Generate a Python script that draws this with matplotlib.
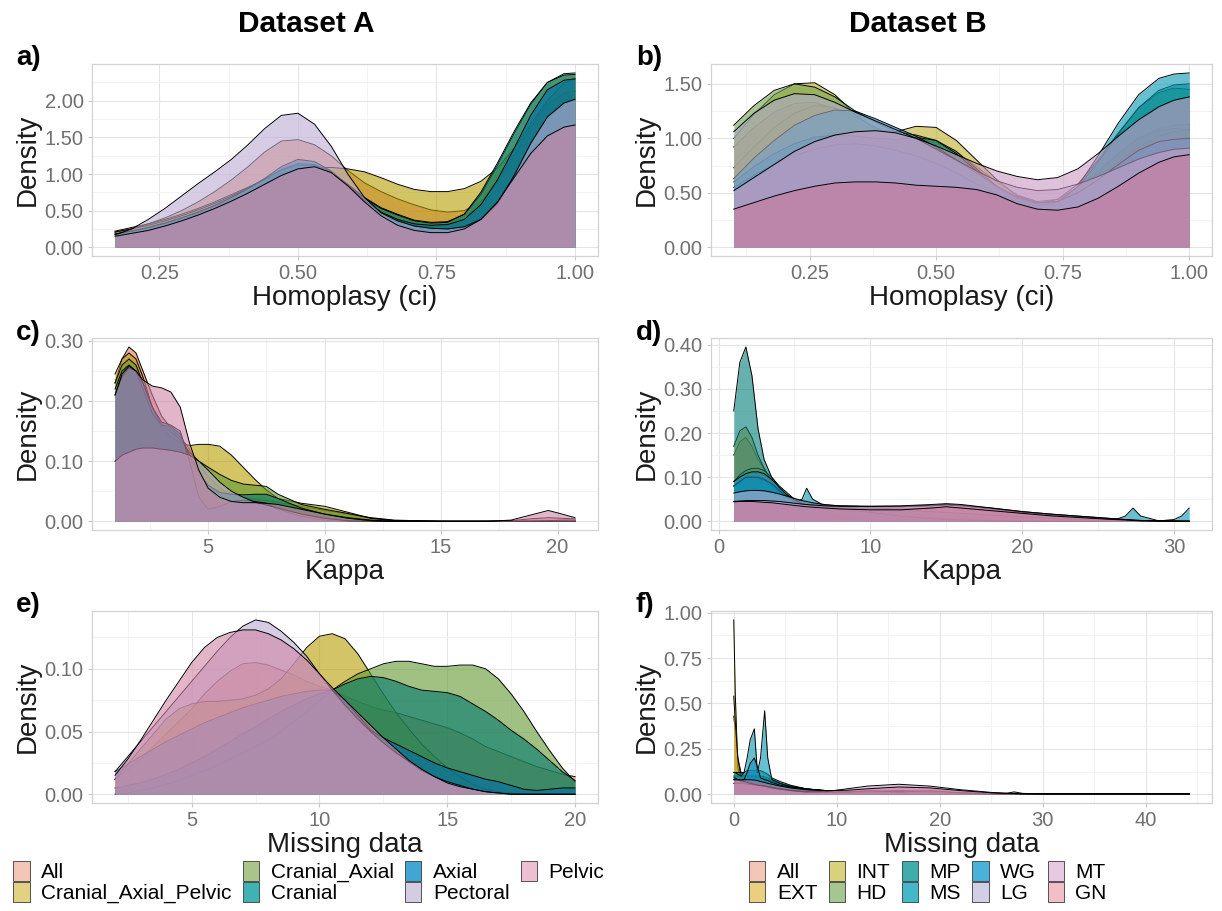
import matplotlib

matplotlib.use("Agg")
import matplotlib.pyplot as plt
from matplotlib.patches import Patch
from matplotlib.ticker import AutoMinorLocator, FormatStrFormatter

plt.rcParams["font.family"] = ["Liberation Sans", "DejaVu Sans"]

# group order (drawing order, later groups sit on top)
groups_a = ["All", "Cranial_Axial_Pelvic", "Cranial_Axial", "Cranial", "Axial", "Pectoral", "Pelvic"]
groups_b = ["All", "EXT", "INT", "HD", "MP", "MS", "WG", "LG", "MT", "GN"]

fill_a = ["#E1785A", "#B79D00", "#61992F", "#00786E", "#006EAA", "#BCACD2", "#CF84A6"]
fill_b = ["#E1785A", "#D7AA28", "#BEAF28", "#6EA04B", "#007D78", "#0096AF", "#148CC3",
          "#B3ABCF", "#CC98C2", "#C97A99"]
key_a = ["#F3C6B6", "#E2D183", "#A9C58A", "#3FB2B4", "#40A7D3", "#D4CCE3", "#EEBFD0"]
key_b = ["#F3C6B6", "#EBCF7E", "#D9D27D", "#A5C68E", "#3FAEAB", "#43B8CB", "#4AB1DA",
         "#D2CEE3", "#E9C8E1", "#F2BFC8"]

# a) homoplasy, dataset A
homo_a_x = [0.17, 0.20, 0.23, 0.26, 0.29, 0.32, 0.35, 0.38, 0.41, 0.44, 0.47, 0.50, 0.53,
            0.56, 0.59, 0.62, 0.65, 0.68, 0.71, 0.74, 0.77, 0.80, 0.83, 0.86, 0.89, 0.92,
            0.95, 0.98, 1.00]
homo_a = {
    "All": [0.20, 0.25, 0.32, 0.40, 0.50, 0.62, 0.76, 0.92, 1.10, 1.30, 1.45, 1.47, 1.40,
            1.25, 1.05, 0.88, 0.76, 0.66, 0.58, 0.51, 0.48, 0.50, 0.62, 0.88, 1.25, 1.63,
            1.95, 2.10, 2.13],
    "Cranial_Axial_Pelvic": [0.22, 0.27, 0.32, 0.38, 0.45, 0.53, 0.62, 0.72, 0.82, 0.92, 1.01,
                             1.07, 1.09, 1.09, 1.07, 1.03, 0.95, 0.86, 0.79, 0.76, 0.76, 0.80,
                             0.90, 1.08, 1.35, 1.68, 2.00, 2.24, 2.30],
    "Cranial_Axial": [0.21, 0.25, 0.30, 0.36, 0.43, 0.51, 0.60, 0.70, 0.81, 0.93, 1.05, 1.12,
                      1.12, 1.03, 0.86, 0.68, 0.54, 0.45, 0.37, 0.34, 0.35, 0.45, 0.72, 1.12,
                      1.55, 1.95, 2.25, 2.37, 2.38],
    "Cranial": [0.18, 0.22, 0.27, 0.33, 0.40, 0.48, 0.57, 0.68, 0.80, 0.93, 1.06, 1.14, 1.13,
                1.03, 0.85, 0.67, 0.53, 0.44, 0.36, 0.33, 0.34, 0.45, 0.75, 1.15, 1.58, 1.97,
                2.25, 2.35, 2.36],
    "Axial": [0.18, 0.22, 0.27, 0.33, 0.40, 0.48, 0.57, 0.68, 0.80, 0.94, 1.10, 1.20, 1.17,
              1.04, 0.84, 0.64, 0.48, 0.38, 0.32, 0.30, 0.31, 0.38, 0.58, 0.92, 1.35, 1.80,
              2.15, 2.28, 2.30],
    "Pectoral": [0.17, 0.25, 0.38, 0.53, 0.70, 0.87, 1.03, 1.20, 1.40, 1.62, 1.80, 1.83, 1.68,
                 1.38, 1.00, 0.68, 0.47, 0.36, 0.29, 0.26, 0.25, 0.28, 0.38, 0.60, 0.98, 1.42,
                 1.78, 1.97, 2.02],
    "Pelvic": [0.15, 0.19, 0.23, 0.29, 0.36, 0.44, 0.53, 0.63, 0.74, 0.86, 0.98, 1.07, 1.10,
               1.02, 0.84, 0.62, 0.43, 0.30, 0.23, 0.20, 0.20, 0.25, 0.38, 0.62, 0.95, 1.28,
               1.52, 1.64, 1.67],
}

# b) homoplasy, dataset B
homo_b_x = [0.10, 0.14, 0.18, 0.22, 0.26, 0.30, 0.34, 0.38, 0.42, 0.46, 0.50, 0.54,
            0.58, 0.62, 0.66, 0.70, 0.74, 0.78, 0.82, 0.86, 0.90, 0.94, 0.97, 1.00]
homo_b = {
    "All": [0.92, 1.10, 1.24, 1.32, 1.33, 1.27, 1.16, 1.05, 0.96, 0.89, 0.81, 0.71,
            0.60, 0.50, 0.43, 0.40, 0.42, 0.52, 0.68, 0.86, 1.00, 1.09, 1.12, 1.13],
    "EXT": [0.73, 0.92, 1.10, 1.23, 1.30, 1.28, 1.20, 1.10, 1.02, 1.00, 0.96, 0.87,
            0.74, 0.60, 0.48, 0.42, 0.44, 0.55, 0.70, 0.86, 1.00, 1.07, 1.09, 1.08],
    "INT": [1.00, 1.22, 1.40, 1.50, 1.51, 1.40, 1.22, 1.08, 1.06, 1.11, 1.10, 0.98,
            0.80, 0.62, 0.47, 0.41, 0.42, 0.50, 0.62, 0.78, 0.92, 1.02, 1.06, 1.08],
    "HD": [1.12, 1.30, 1.44, 1.50, 1.47, 1.38, 1.25, 1.15, 1.06, 1.03, 0.98, 0.88,
           0.72, 0.56, 0.44, 0.40, 0.44, 0.58, 0.80, 1.05, 1.28, 1.42, 1.46, 1.45],
    "MP": [0.60, 0.74, 0.86, 0.95, 1.01, 1.03, 1.02, 1.00, 0.99, 1.01, 0.98, 0.86,
           0.70, 0.55, 0.45, 0.40, 0.42, 0.55, 0.78, 1.04, 1.28, 1.44, 1.49, 1.50],
    "MS": [0.55, 0.66, 0.76, 0.84, 0.90, 0.94, 0.95, 0.93, 0.89, 0.84, 0.77, 0.68,
           0.58, 0.49, 0.42, 0.38, 0.41, 0.56, 0.84, 1.14, 1.40, 1.55, 1.59, 1.60],
    "WG": [0.63, 0.82, 0.98, 1.12, 1.21, 1.26, 1.25, 1.18, 1.10, 1.02, 0.92, 0.80,
           0.68, 0.56, 0.46, 0.41, 0.42, 0.50, 0.62, 0.76, 0.89, 0.97, 0.99, 1.00],
    "LG": [1.06, 1.23, 1.35, 1.41, 1.40, 1.33, 1.24, 1.16, 1.08, 1.00, 0.90, 0.80,
           0.70, 0.61, 0.55, 0.52, 0.53, 0.58, 0.65, 0.73, 0.81, 0.87, 0.90, 0.91],
    "MT": [0.52, 0.64, 0.76, 0.88, 0.97, 1.03, 1.06, 1.07, 1.05, 1.00, 0.93, 0.85,
           0.77, 0.70, 0.65, 0.62, 0.64, 0.72, 0.86, 1.02, 1.17, 1.29, 1.35, 1.38],
    "GN": [0.35, 0.41, 0.47, 0.52, 0.56, 0.59, 0.60, 0.60, 0.59, 0.57, 0.56, 0.55,
           0.53, 0.48, 0.40, 0.35, 0.34, 0.37, 0.45, 0.56, 0.68, 0.78, 0.83, 0.85],
}

# c) kappa, dataset A
kappa_a_x = [1.0, 1.3, 1.6, 1.9, 2.2, 2.6, 3.0, 3.4, 3.8, 4.2, 4.6, 5.0, 5.5, 6.0, 6.5,
             7.0, 7.5, 8.0, 9.0, 10.0, 11.0, 12.0, 13.0, 15.0, 17.0, 18.0, 18.8, 19.6,
             20.2, 20.75]
kappa_a = {
    "All": [0.23, 0.27, 0.29, 0.28, 0.25, 0.21, 0.175, 0.155, 0.14, 0.12, 0.095, 0.075,
            0.055, 0.045, 0.04, 0.037, 0.035, 0.032, 0.025, 0.018, 0.012, 0.006, 0.002,
            0.0, 0.0, 0.001, 0.004, 0.006, 0.005, 0.004],
    "Cranial_Axial_Pelvic": [0.245, 0.27, 0.28, 0.27, 0.24, 0.19, 0.155, 0.14, 0.13, 0.126,
                             0.128, 0.128, 0.125, 0.11, 0.09, 0.07, 0.052, 0.038, 0.03,
                             0.025, 0.015, 0.005, 0.001, 0.0, 0.0, 0.0, 0.0, 0.001, 0.002,
                             0.002],
    "Cranial_Axial": [0.23, 0.26, 0.27, 0.26, 0.23, 0.19, 0.16, 0.15, 0.135, 0.115, 0.10,
                      0.09, 0.078, 0.068, 0.062, 0.06, 0.058, 0.045, 0.028, 0.02, 0.013,
                      0.005, 0.001, 0.0, 0.0, 0.0, 0.0, 0.0, 0.0, 0.0],
    "Cranial": [0.22, 0.25, 0.26, 0.25, 0.22, 0.18, 0.16, 0.158, 0.145, 0.11, 0.08, 0.06,
                0.048, 0.045, 0.044, 0.045, 0.045, 0.038, 0.022, 0.012, 0.006, 0.002, 0.0,
                0.0, 0.0, 0.0, 0.0, 0.0, 0.0, 0.0],
    "Axial": [0.21, 0.24, 0.255, 0.25, 0.23, 0.19, 0.165, 0.16, 0.15, 0.10, 0.04, 0.02,
              0.025, 0.033, 0.035, 0.033, 0.03, 0.02, 0.008, 0.002, 0.0, 0.0, 0.0, 0.0,
              0.0, 0.0, 0.0, 0.0, 0.0, 0.0],
    "Pectoral": [0.10, 0.11, 0.115, 0.12, 0.122, 0.122, 0.12, 0.118, 0.115, 0.11, 0.10,
                 0.085, 0.065, 0.05, 0.04, 0.032, 0.027, 0.022, 0.012, 0.005, 0.001, 0.0,
                 0.0, 0.0, 0.0, 0.0, 0.0, 0.0, 0.0, 0.0],
    "Pelvic": [0.21, 0.245, 0.258, 0.25, 0.235, 0.225, 0.222, 0.215, 0.19, 0.13, 0.085,
               0.055, 0.04, 0.033, 0.031, 0.031, 0.03, 0.028, 0.02, 0.012, 0.005, 0.001,
               0.0, 0.0, 0.0, 0.002, 0.01, 0.018, 0.012, 0.006],
}

# d) kappa, dataset B
kappa_b_x = [1.0, 1.4, 1.8, 2.2, 2.6, 3.0, 3.5, 4.0, 4.5, 5.0, 5.5, 5.8, 6.2, 7.0, 8.0,
             10.0, 12.0, 14.0, 15.0, 16.0, 18.0, 20.0, 22.0, 24.0, 26.0, 26.8, 27.3,
             27.8, 29.0, 30.0, 30.5, 31.0]
kappa_b = {
    "All": [0.15, 0.18, 0.19, 0.17, 0.14, 0.12, 0.09, 0.07, 0.06, 0.05, 0.045, 0.042,
            0.04, 0.037, 0.035, 0.034, 0.034, 0.036, 0.038, 0.036, 0.03, 0.022, 0.016,
            0.011, 0.006, 0.004, 0.003, 0.002, 0.001, 0.001, 0.0, 0.0],
    "EXT": [0.17, 0.205, 0.214, 0.19, 0.15, 0.12, 0.09, 0.07, 0.055, 0.045, 0.04, 0.038,
            0.036, 0.034, 0.032, 0.03, 0.028, 0.03, 0.032, 0.03, 0.024, 0.018, 0.012,
            0.008, 0.004, 0.003, 0.002, 0.001, 0.0, 0.0, 0.0, 0.0],
    "INT": [0.09, 0.105, 0.115, 0.12, 0.12, 0.115, 0.1, 0.08, 0.065, 0.05, 0.042, 0.04,
            0.038, 0.035, 0.03, 0.02, 0.012, 0.008, 0.006, 0.004, 0.002, 0.001, 0.0, 0.0,
            0.0, 0.0, 0.0, 0.0, 0.0, 0.0, 0.0, 0.0],
    "HD": [0.08, 0.09, 0.1, 0.1, 0.098, 0.092, 0.08, 0.065, 0.052, 0.042, 0.035, 0.032,
           0.028, 0.02, 0.012, 0.004, 0.001, 0.0, 0.0, 0.0, 0.0, 0.0, 0.0, 0.0, 0.0, 0.0,
           0.0, 0.0, 0.0, 0.0, 0.0, 0.0],
    "MP": [0.25, 0.36, 0.395, 0.33, 0.21, 0.14, 0.10, 0.075, 0.06, 0.05, 0.04, 0.035,
           0.03, 0.02, 0.01, 0.003, 0.0, 0.0, 0.0, 0.0, 0.0, 0.0, 0.0, 0.0, 0.0, 0.0,
           0.0, 0.0, 0.0, 0.0, 0.0, 0.0],
    "MS": [0.08, 0.09, 0.1, 0.1, 0.1, 0.095, 0.085, 0.07, 0.055, 0.045, 0.05, 0.075,
           0.05, 0.035, 0.03, 0.028, 0.025, 0.022, 0.02, 0.018, 0.014, 0.01, 0.007, 0.004,
           0.002, 0.012, 0.03, 0.012, 0.001, 0.004, 0.012, 0.03],
    "WG": [0.09, 0.1, 0.108, 0.112, 0.112, 0.108, 0.095, 0.078, 0.06, 0.048, 0.04, 0.038,
           0.035, 0.032, 0.028, 0.02, 0.012, 0.006, 0.004, 0.003, 0.001, 0.0, 0.0, 0.0,
           0.0, 0.0, 0.0, 0.0, 0.0, 0.0, 0.0, 0.0],
    "LG": [0.064, 0.067, 0.069, 0.07, 0.07, 0.069, 0.066, 0.062, 0.057, 0.052, 0.047,
           0.045, 0.042, 0.038, 0.035, 0.033, 0.033, 0.035, 0.037, 0.035, 0.028, 0.02,
           0.014, 0.009, 0.005, 0.003, 0.002, 0.001, 0.001, 0.0, 0.0, 0.0],
    "MT": [0.045, 0.046, 0.047, 0.047, 0.047, 0.047, 0.046, 0.045, 0.043, 0.041, 0.039,
           0.038, 0.037, 0.035, 0.034, 0.034, 0.035, 0.038, 0.04, 0.038, 0.03, 0.022,
           0.016, 0.011, 0.006, 0.004, 0.003, 0.002, 0.001, 0.001, 0.0, 0.0],
    "GN": [0.044, 0.045, 0.045, 0.045, 0.044, 0.043, 0.042, 0.04, 0.038, 0.036, 0.034,
           0.033, 0.032, 0.03, 0.028, 0.026, 0.026, 0.03, 0.033, 0.03, 0.024, 0.018,
           0.012, 0.008, 0.004, 0.003, 0.002, 0.001, 0.0, 0.0, 0.0, 0.0],
}

# e) missing data, dataset A
miss_a_x = [2.0, 2.5, 3.0, 3.5, 4.0, 4.5, 5.0, 5.5, 6.0, 6.5, 7.0, 7.5, 8.0, 8.5, 9.0,
            9.5, 10.0, 10.5, 11.0, 11.5, 12.0, 12.5, 13.0, 13.5, 14.0, 14.5, 15.0, 15.5,
            16.0, 16.5, 17.0, 17.5, 18.0, 18.5, 19.0, 19.5, 20.0]
miss_a = {
    "All": [0.012, 0.020, 0.028, 0.038, 0.048, 0.058, 0.068, 0.080, 0.090, 0.098, 0.104,
            0.105, 0.103, 0.099, 0.095, 0.090, 0.086, 0.083, 0.078, 0.074, 0.070, 0.067,
            0.065, 0.062, 0.059, 0.056, 0.053, 0.049, 0.044, 0.038, 0.034, 0.030, 0.026,
            0.022, 0.019, 0.016, 0.014],
    "Cranial_Axial_Pelvic": [0.012, 0.024, 0.036, 0.048, 0.060, 0.068, 0.072, 0.074, 0.074,
                             0.075, 0.076, 0.079, 0.084, 0.092, 0.104, 0.117, 0.126, 0.128,
                             0.124, 0.112, 0.096, 0.080, 0.065, 0.052, 0.040, 0.030, 0.021,
                             0.014, 0.008, 0.004, 0.002, 0.001, 0.0, 0.0, 0.0, 0.0, 0.0],
    "Cranial_Axial": [0.000, 0.001, 0.003, 0.005, 0.008, 0.011, 0.015, 0.019, 0.023, 0.028,
                      0.033, 0.038, 0.043, 0.050, 0.058, 0.066, 0.075, 0.083, 0.090, 0.096,
                      0.100, 0.104, 0.106, 0.106, 0.104, 0.102, 0.102, 0.103, 0.103, 0.100,
                      0.092, 0.080, 0.066, 0.050, 0.035, 0.021, 0.010],
    "Cranial": [0.005, 0.007, 0.009, 0.012, 0.016, 0.020, 0.025, 0.030, 0.036, 0.042, 0.048,
                0.054, 0.060, 0.066, 0.071, 0.076, 0.080, 0.083, 0.088, 0.092, 0.094, 0.093,
                0.090, 0.086, 0.083, 0.082, 0.081, 0.078, 0.072, 0.066, 0.059, 0.051, 0.044,
                0.036, 0.027, 0.018, 0.011],
    "Axial": [0.018, 0.024, 0.030, 0.036, 0.042, 0.047, 0.052, 0.057, 0.061, 0.065, 0.069,
              0.072, 0.075, 0.078, 0.080, 0.082, 0.083, 0.083, 0.075, 0.063, 0.051, 0.045,
              0.040, 0.035, 0.030, 0.025, 0.021, 0.018, 0.015, 0.012, 0.010, 0.007, 0.004,
              0.003, 0.004, 0.005, 0.005],
    "Pectoral": [0.018, 0.030, 0.042, 0.054, 0.066, 0.078, 0.090, 0.102, 0.114, 0.125, 0.134,
                 0.139, 0.137, 0.130, 0.121, 0.110, 0.096, 0.083, 0.071, 0.060, 0.050, 0.041,
                 0.033, 0.026, 0.019, 0.014, 0.010, 0.007, 0.004, 0.002, 0.001, 0.0, 0.0,
                 0.0, 0.0, 0.0, 0.0],
    "Pelvic": [0.015, 0.028, 0.043, 0.059, 0.075, 0.090, 0.105, 0.117, 0.125, 0.129, 0.131,
               0.131, 0.128, 0.123, 0.116, 0.107, 0.096, 0.085, 0.075, 0.065, 0.055, 0.045,
               0.036, 0.027, 0.020, 0.014, 0.009, 0.006, 0.004, 0.002, 0.001, 0.0, 0.0,
               0.0, 0.0, 0.0, 0.0],
}

# f) missing data, dataset B
miss_b_x = [0.0, 0.15, 0.4, 0.7, 1.0, 1.3, 1.6, 2.0, 2.3, 2.6, 3.0, 3.3, 3.7, 4.5, 5.5,
            7.0, 9.0, 11.0, 13.0, 16.0, 19.0, 22.0, 25.0, 26.5, 27.2, 28.0, 30.0, 35.0,
            40.0, 44.2]
miss_b = {
    "All": [0.43, 0.35, 0.2, 0.12, 0.1, 0.1, 0.1, 0.1, 0.1, 0.1, 0.095, 0.09, 0.08, 0.06,
            0.045, 0.03, 0.02, 0.015, 0.015, 0.018, 0.015, 0.008, 0.003, 0.002, 0.002,
            0.001, 0.001, 0.001, 0.001, 0.001],
    "EXT": [0.96, 0.55, 0.15, 0.06, 0.05, 0.05, 0.05, 0.05, 0.045, 0.04, 0.04, 0.035, 0.03,
            0.025, 0.02, 0.015, 0.01, 0.008, 0.01, 0.015, 0.01, 0.005, 0.002, 0.001, 0.001,
            0.0, 0.0, 0.0, 0.0, 0.0],
    "INT": [0.54, 0.4, 0.2, 0.1, 0.08, 0.07, 0.07, 0.07, 0.065, 0.06, 0.06, 0.055, 0.05,
            0.04, 0.03, 0.025, 0.02, 0.015, 0.015, 0.02, 0.015, 0.008, 0.003, 0.001, 0.001,
            0.0, 0.0, 0.0, 0.0, 0.0],
    "HD": [0.1, 0.1, 0.1, 0.1, 0.1, 0.1, 0.1, 0.098, 0.095, 0.09, 0.085, 0.08, 0.072, 0.058,
           0.045, 0.03, 0.018, 0.01, 0.008, 0.01, 0.008, 0.004, 0.001, 0.0, 0.0, 0.0, 0.0,
           0.0, 0.0, 0.0],
    "MP": [0.12, 0.12, 0.12, 0.12, 0.12, 0.13, 0.13, 0.13, 0.13, 0.13, 0.12, 0.11, 0.09,
           0.07, 0.05, 0.03, 0.015, 0.005, 0.002, 0.001, 0.0, 0.0, 0.0, 0.005, 0.013,
           0.005, 0.0, 0.0, 0.0, 0.0],
    "MS": [0.12, 0.12, 0.11, 0.1, 0.12, 0.2, 0.3, 0.36, 0.12, 0.2, 0.46, 0.2, 0.08, 0.06,
           0.04, 0.025, 0.01, 0.003, 0.0, 0.0, 0.0, 0.0, 0.0, 0.0, 0.0, 0.0, 0.0, 0.0, 0.0,
           0.0],
    "WG": [0.09, 0.09, 0.08, 0.07, 0.08, 0.12, 0.17, 0.2, 0.15, 0.09, 0.08, 0.075, 0.065,
           0.05, 0.04, 0.03, 0.02, 0.01, 0.01, 0.015, 0.01, 0.005, 0.002, 0.002, 0.002,
           0.001, 0.0, 0.0, 0.0, 0.0],
    "LG": [0.06, 0.06, 0.06, 0.06, 0.058, 0.056, 0.054, 0.052, 0.05, 0.048, 0.045, 0.042,
           0.038, 0.03, 0.022, 0.015, 0.01, 0.012, 0.02, 0.012, 0.02, 0.008, 0.002, 0.001,
           0.001, 0.0, 0.0, 0.0, 0.0, 0.0],
    "MT": [0.08, 0.08, 0.08, 0.075, 0.07, 0.065, 0.06, 0.055, 0.05, 0.048, 0.045, 0.04,
           0.035, 0.028, 0.02, 0.012, 0.015, 0.03, 0.045, 0.055, 0.045, 0.025, 0.01, 0.006,
           0.004, 0.003, 0.002, 0.002, 0.002, 0.002],
    "GN": [0.08, 0.08, 0.08, 0.08, 0.08, 0.08, 0.08, 0.078, 0.075, 0.07, 0.065, 0.06, 0.055,
           0.045, 0.035, 0.025, 0.02, 0.022, 0.03, 0.04, 0.035, 0.02, 0.008, 0.004, 0.003,
           0.002, 0.001, 0.001, 0.001, 0.001],
}

TICK_GREY = "#707070"
FILL_ALPHA = 0.6


def density_panel(ax, x, curves, groups, colors, xticks, yticks, xfmt, xlabel, tag):
    for i, (name, col) in enumerate(zip(groups, colors)):
        y = curves[name]
        ax.fill_between(x, 0, y, color=col, alpha=FILL_ALPHA, lw=0, zorder=2 + i)
        ax.plot(x, y, color="black", lw=0.7, zorder=2.5 + i, solid_joinstyle="round")

    # ggplot-like 5% expansion on both axes
    x_lo, x_hi = min(x), max(x)
    y_hi = max(max(v) for v in curves.values())
    ax.set_xlim(x_lo - 0.05 * (x_hi - x_lo), x_hi + 0.05 * (x_hi - x_lo))
    ax.set_ylim(-0.05 * y_hi, 1.05 * y_hi)

    ax.set_xticks(xticks)
    ax.set_yticks(yticks)
    ax.xaxis.set_major_formatter(FormatStrFormatter(xfmt))
    ax.yaxis.set_major_formatter(FormatStrFormatter("%.2f"))
    ax.xaxis.set_minor_locator(AutoMinorLocator(2))
    ax.yaxis.set_minor_locator(AutoMinorLocator(2))
    ax.grid(which="major", color="#E4E4E4", lw=0.8)
    ax.grid(which="minor", color="#F1F1F1", lw=0.6)
    ax.set_axisbelow(True)
    ax.tick_params(which="major", length=3, color="#C8C8C8", labelsize=14.5,
                   labelcolor=TICK_GREY, pad=3)
    ax.tick_params(which="minor", length=0)
    for sp in ax.spines.values():
        sp.set_color("#D2D2D2")
        sp.set_linewidth(0.9)

    ax.set_xlabel(xlabel, fontsize=20, color="#1A1A1A", labelpad=1)
    ax.set_ylabel("Density", fontsize=20, color="#1A1A1A", labelpad=3)
    ax.text(-0.15, 1.03, tag, transform=ax.transAxes, fontsize=20, fontweight="bold",
            ha="left", va="center")


fig = plt.figure(figsize=(12.22, 9.11), dpi=100)

col_x = [0.0753, 0.5818]
col_w = [0.4141, 0.4100]
row_y = [0.719, 0.4182, 0.1186]
row_h = 0.2105

ax_a = fig.add_axes([col_x[0], row_y[0], col_w[0], row_h])
ax_b = fig.add_axes([col_x[1], row_y[0], col_w[1], row_h])
ax_c = fig.add_axes([col_x[0], row_y[1], col_w[0], row_h])
ax_d = fig.add_axes([col_x[1], row_y[1], col_w[1], row_h])
ax_e = fig.add_axes([col_x[0], row_y[2], col_w[0], row_h])
ax_f = fig.add_axes([col_x[1], row_y[2], col_w[1], row_h])

density_panel(ax_a, homo_a_x, homo_a, groups_a, fill_a, [0.25, 0.5, 0.75, 1.0],
              [0, 0.5, 1.0, 1.5, 2.0], "%.2f", "Homoplasy (ci)", "a)")
density_panel(ax_b, homo_b_x, homo_b, groups_b, fill_b, [0.25, 0.5, 0.75, 1.0],
              [0, 0.5, 1.0, 1.5], "%.2f", "Homoplasy (ci)", "b)")
density_panel(ax_c, kappa_a_x, kappa_a, groups_a, fill_a, [5, 10, 15, 20],
              [0, 0.1, 0.2, 0.3], "%d", "Kappa", "c)")
density_panel(ax_d, kappa_b_x, kappa_b, groups_b, fill_b, [0, 10, 20, 30],
              [0, 0.1, 0.2, 0.3, 0.4], "%d", "Kappa", "d)")
density_panel(ax_e, miss_a_x, miss_a, groups_a, fill_a, [5, 10, 15, 20],
              [0, 0.05, 0.10], "%d", "Missing data", "e)")
density_panel(ax_f, miss_b_x, miss_b, groups_b, fill_b, [0, 10, 20, 30, 40],
              [0, 0.25, 0.5, 0.75, 1.0], "%d", "Missing data", "f)")

fig.text(0.251, 0.974, "Dataset A", fontsize=21.5, fontweight="bold", ha="center", va="center")
fig.text(0.751, 0.974, "Dataset B", fontsize=21.5, fontweight="bold", ha="center", va="center")

legend_kw = dict(loc="upper left", frameon=False, fontsize=15, handlelength=0.78,
                 handleheight=1.1, handletextpad=0.55, labelspacing=0.0,
                 columnspacing=0.55, borderpad=0, borderaxespad=0)
handles_a = [Patch(facecolor=c, edgecolor="#3A3A3A", lw=0.6) for c in key_a]
handles_b = [Patch(facecolor=c, edgecolor="#3A3A3A", lw=0.6) for c in key_b]
fig.legend(handles_a, groups_a, ncol=4, bbox_to_anchor=(0.011, 0.055), **legend_kw)
fig.legend(handles_b, groups_b, ncol=5, bbox_to_anchor=(0.613, 0.055), **legend_kw)

fig.savefig("out.png", dpi=100, facecolor="white")
